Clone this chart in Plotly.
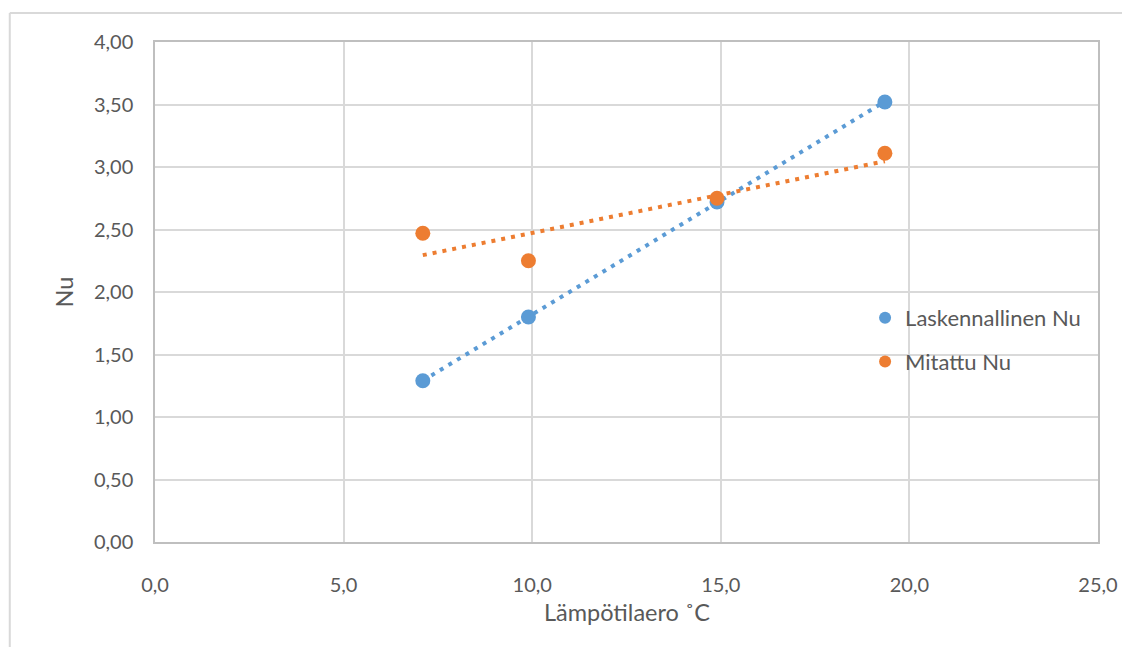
import numpy as np
import plotly.graph_objects as go

x_vals = [7.1, 9.9, 14.9, 19.35]
laskennallinen = [1.29, 1.80, 2.72, 3.52]
mitattu = [2.47, 2.25, 2.75, 3.11]
x_ticks = [0, 5, 10, 15, 20, 25]
x_labels = ["0,0", "5,0", "10,0", "15,0", "20,0", "25,0"]
y_ticks = [0, 0.5, 1, 1.5, 2, 2.5, 3, 3.5, 4]
y_labels = ["0,00", "0,50", "1,00", "1,50", "2,00", "2,50", "3,00", "3,50", "4,00"]

blue = "#5B9BD5"
orange = "#ED7D31"
grey_txt = "#595959"
FONT = "Lato, Open Sans, sans-serif"

# page body has an 8px default margin, so the figure is laid out 8px smaller
W, H = 1122, 639
ml, mr, mt, mb = 147, 27, 34, 105
pw, ph = W - ml - mr, H - mt - mb

fig = go.Figure()

for ys, col in [(laskennallinen, blue), (mitattu, orange)]:
    k, b = np.polyfit(x_vals, ys, 1)
    xs = [min(x_vals), max(x_vals)]
    fig.add_trace(go.Scatter(x=xs, y=[k * v + b for v in xs], mode="lines",
                             line=dict(color=col, width=4, dash="4px,6px"),
                             showlegend=False, hoverinfo="skip"))

fig.add_trace(go.Scatter(x=x_vals, y=laskennallinen, mode="markers", name="Laskennallinen Nu",
                         legendgroup="a", marker=dict(color=blue, size=15)))
fig.add_trace(go.Scatter(x=x_vals, y=mitattu, mode="markers", name="Mitattu Nu",
                         legendgroup="b", marker=dict(color=orange, size=15)))

fig.update_layout(
    width=W, height=H,
    margin=dict(l=ml, r=mr, t=mt, b=mb),
    paper_bgcolor="white", plot_bgcolor="white",
    font=dict(family=FONT, size=20, color=grey_txt),
    xaxis=dict(range=[0, 25], tickvals=x_ticks, ticktext=x_labels, showgrid=True,
               gridcolor="#D9D9D9", gridwidth=1.5, zeroline=False, showline=True,
               linecolor="#BFBFBF", linewidth=1.5, mirror=True,
               ticks="outside", ticklen=24, tickcolor="rgba(0,0,0,0)",
               tickfont=dict(size=20, color=grey_txt)),
    yaxis=dict(range=[0, 4], tickvals=y_ticks, ticktext=y_labels, showgrid=True,
               gridcolor="#D9D9D9", gridwidth=1.5, zeroline=False, showline=True,
               linecolor="#BFBFBF", linewidth=1.5, mirror=True,
               ticks="outside", ticklen=16, tickcolor="rgba(0,0,0,0)",
               tickfont=dict(size=20, color=grey_txt)),
    legend=dict(x=0.753, y=0.49, xanchor="left", yanchor="top", bgcolor="rgba(0,0,0,0)",
                font=dict(size=22, color=grey_txt), itemsizing="constant", tracegroupgap=12,
                itemwidth=30),
    annotations=[
        dict(text="Lämpötilaero ˚C", xref="paper", yref="paper", x=0.5, y=-0.14,
             xanchor="center", yanchor="middle", showarrow=False,
             font=dict(size=23.5, color=grey_txt)),
        dict(text="Nu", xref="paper", yref="paper", x=-0.096, y=0.5, textangle=-90,
             xanchor="center", yanchor="middle", showarrow=False,
             font=dict(size=23.5, color=grey_txt)),
    ],
    shapes=[
        dict(type="line", xref="paper", yref="paper",
             x0=(1 - ml) / pw, x1=(1 - ml) / pw, y0=1 + (mt - 5) / ph, y1=-mb / ph,
             line=dict(color="#D9D9D9", width=2)),
        dict(type="line", xref="paper", yref="paper",
             x0=(1 - ml) / pw, x1=(W - ml) / pw, y0=1 + (mt - 5) / ph, y1=1 + (mt - 5) / ph,
             line=dict(color="#D9D9D9", width=2)),
    ],
)

fig.write_html("out.html")
